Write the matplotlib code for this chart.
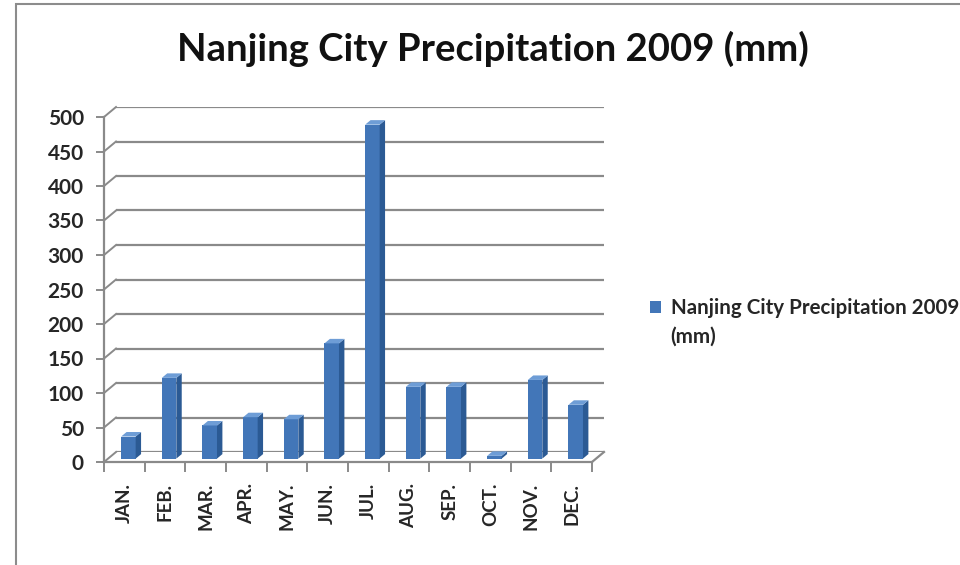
import matplotlib
matplotlib.use("Agg")
import matplotlib.pyplot as plt
from matplotlib.patches import Polygon, Rectangle, Patch
from matplotlib.lines import Line2D

plt.rcParams['font.family'] = ['Lato', 'DejaVu Sans']

# ---- data ----
months = ["JAN.", "FEB.", "MAR.", "APR.", "MAY.", "JUN.",
          "JUL.", "AUG.", "SEP.", "OCT.", "NOV.", "DEC."]
precip = [32, 117, 48, 60, 57, 167, 484, 104, 104, 4, 114, 78]
yticks = [0, 50, 100, 150, 200, 250, 300, 350, 400, 450, 500]
title = "Nanjing City Precipitation 2009 (mm)"
legend_lines = ["Nanjing City Precipitation 2009", "(mm)"]

W, H = 960, 565
fig = plt.figure(figsize=(W / 100, H / 100), dpi=100)
fig.patch.set_facecolor("white")

grid_col = "#8a8a8a"
txt_col = "#262626"
c_front = "#4276B8"
c_side = "#2B5A94"
c_top = "#6E9DD6"

# geometry (pixels)
fx0, fy0 = 104, 462          # front-left-bottom corner
pw, ph = 488, 345            # plot width/height
ddx, ddy = 12, 10            # depth offset (front -> back wall)
n = len(months)
ymax = 500

# back wall axes: gridlines
axb = fig.add_axes([(fx0 + ddx) / W, (H - fy0 + ddy) / H, pw / W, ph / H])
axb.set_xlim(0, n)
axb.set_ylim(0, ymax)
axb.set_yticks(yticks)
axb.set_xticks([])
axb.tick_params(left=False, labelleft=False)
axb.yaxis.grid(True, color=grid_col, lw=1.6)
for s in axb.spines.values():
    s.set_visible(False)
axb.patch.set_visible(False)

# front axes: axis lines, ticks, labels, bars
ax = fig.add_axes([fx0 / W, (H - fy0) / H, pw / W, ph / H])
ax.set_xlim(0, n)
ax.set_ylim(0, ymax)
ax.patch.set_visible(False)
for k in ("top", "right"):
    ax.spines[k].set_visible(False)
for k in ("left", "bottom"):
    ax.spines[k].set_color(grid_col)
    ax.spines[k].set_linewidth(1.6)
ax.set_yticks(yticks)
ax.set_yticklabels([str(v) for v in yticks], fontsize=15, fontweight="bold", color=txt_col)
ax.tick_params(axis="y", direction="out", length=5.5, width=1.4, color=grid_col, pad=9)
ax.set_xticks(range(n + 1))
ax.set_xticklabels([""] * (n + 1))
ax.tick_params(axis="x", which="major", direction="out", length=7, width=1.4, color=grid_col)
ax.set_xticks([i + 0.5 for i in range(n)], minor=True)
ax.set_xticklabels(months, minor=True, rotation=90, fontsize=13.5, fontweight="bold",
                   color=txt_col, va="top", ha="center")
ax.tick_params(axis="x", which="minor", length=0, pad=15)

# conversion of pixel depth to data units
ux = n / pw
uy = ymax / ph
Dx, Dy = ddx * ux, ddy * uy

# diagonal connectors from front axis to back wall
for v in yticks:
    ax.add_line(Line2D([0, Dx], [v, v + Dy], color=grid_col, lw=1.4, clip_on=False))
ax.add_line(Line2D([n, n + Dx], [0, Dy], color=grid_col, lw=1.6, clip_on=False))

# 3D-looking bars
bw = 14.5 * ux
f0 = 0.34    # front face depth fraction
fd = 0.45    # bar depth fraction
ox, oy = f0 * Dx, f0 * Dy
sx, sy = fd * Dx, fd * Dy
bars = ax.bar([i + 0.5 + ox for i in range(n)], precip, width=bw, bottom=oy,
              color=c_front, zorder=3, clip_on=False)
for i, v in enumerate(precip):
    xl = i + 0.5 + ox - bw / 2
    xr = xl + bw
    yb, yt = oy, oy + v
    ax.add_patch(Polygon([(xr, yb), (xr + sx, yb + sy), (xr + sx, yt + sy), (xr, yt)],
                         closed=True, facecolor=c_side, edgecolor="none", zorder=3,
                         clip_on=False))
    ax.add_patch(Polygon([(xl, yt), (xr, yt), (xr + sx, yt + sy), (xl + sx, yt + sy)],
                         closed=True, facecolor=c_top, edgecolor="none", zorder=3,
                         clip_on=False))

# title
fig.text(493 / W, 1 - 49 / H, title, ha="center", va="center",
         fontsize=27.5, fontweight="bold", color="#111111")

# legend (second entry carries the wrapped part of the label)
handles = [Patch(facecolor=c_front, label=legend_lines[0]),
           Patch(facecolor="none", edgecolor="none", label=legend_lines[1])]
leg = fig.legend(handles=handles, loc="upper left",
                 bbox_to_anchor=(650 / W, 1 - 298 / H),
                 frameon=False, prop={"size": 14.8, "weight": "bold"},
                 handlelength=0.55, handleheight=0.55, handletextpad=0.45,
                 labelspacing=0.4, labelcolor=txt_col, borderpad=0, borderaxespad=0)

# outer chart border
fig.add_artist(Rectangle((16 / W, -0.1), 1.0, 1.1 - 4 / H, transform=fig.transFigure,
                         fill=False, edgecolor="#8c8c8c", lw=1.5))

fig.savefig("out.png", dpi=100, facecolor="white")
